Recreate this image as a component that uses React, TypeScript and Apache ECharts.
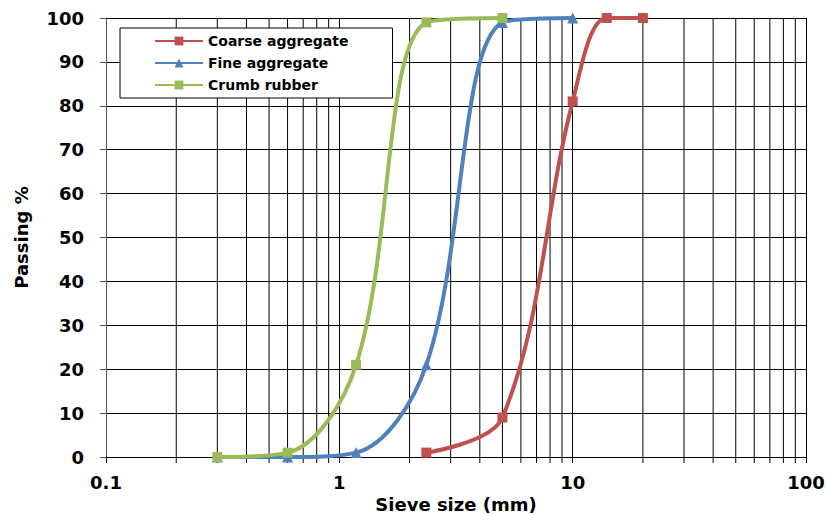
import React, { useEffect, useRef } from "react";
import * as echarts from "echarts";

const sieveCoarse = [2.36, 5, 10, 14, 20];
const passingCoarse = [1, 9, 81, 100, 100];
const sieveFine = [0.3, 0.6, 1.18, 2.36, 5, 10];
const passingFine = [0, 0, 1, 21, 99, 100];
const sieveRubber = [0.3, 0.6, 1.18, 2.36, 5];
const passingRubber = [0, 1, 21, 99, 100];
const minorGrid = [0.2, 0.3, 0.4, 0.5, 0.6, 0.7, 0.8, 0.9, 2, 3, 4, 5, 6, 7, 8, 9, 20, 30, 40, 50, 60, 70, 80, 90];

const zip = (xs: number[], ys: number[]) => xs.map((x, i) => [x, ys[i]]);

export default function App() {
  const ref = useRef<HTMLDivElement>(null);
  useEffect(() => {
    const chart = echarts.init(ref.current!, null, { renderer: "svg" });
    const font = "DejaVu Sans, Verdana, sans-serif";
    chart.setOption({
      animation: false,
      backgroundColor: "#fff",
      textStyle: { fontFamily: font },
      grid: { left: 106, right: 21, top: 18, bottom: 58, outerBoundsMode: "none", containLabel: false },
      legend: {
        orient: "vertical",
        left: 120,
        top: 28,
        backgroundColor: "#fff",
        borderColor: "#000",
        borderWidth: 1,
        padding: [6, 44, 6, 34],
        itemGap: 8,
        itemWidth: 48,
        itemHeight: 11,
        textStyle: { fontFamily: font, fontSize: 14, fontWeight: "bold", color: "#000" },
        data: ["Coarse aggregate", "Fine aggregate", "Crumb rubber"],
      },
      xAxis: {
        type: "log",
        logBase: 10,
        min: 0.1,
        max: 100,
        name: "Sieve size (mm)",
        nameLocation: "middle",
        nameGap: 32,
        nameTextStyle: { fontFamily: font, fontSize: 18, fontWeight: "bold", color: "#000" },
        axisLine: { lineStyle: { color: "#000", width: 1 } },
        axisTick: { show: true, length: 6, lineStyle: { color: "#000" } },
        axisLabel: {
          fontFamily: font,
          fontSize: 18,
          fontWeight: "bold",
          color: "#000",
          margin: 16,
          formatter: (v: number) => String(v),
        },
        splitLine: { show: true, lineStyle: { color: "#000", width: 1 } },
      },
      yAxis: {
        type: "value",
        min: 0,
        max: 100,
        interval: 10,
        name: "Passing %",
        nameLocation: "middle",
        nameGap: 76,
        nameTextStyle: { fontFamily: font, fontSize: 18, fontWeight: "bold", color: "#000" },
        axisLine: { show: true, lineStyle: { color: "#555", width: 1 } },
        axisTick: { show: true, length: 6, lineStyle: { color: "#555" } },
        axisLabel: { fontFamily: font, fontSize: 18, fontWeight: "bold", color: "#000", margin: 22 },
        splitLine: { show: true, lineStyle: { color: "#000", width: 1 } },
      },
      series: [
        {
          name: "minor grid",
          type: "custom",
          silent: true,
          z: 1,
          data: minorGrid.map((x) => [x]),
          renderItem: (params: any, api: any) => {
            const x = api.value(0);
            const top = api.coord([x, 100]);
            const bottom = api.coord([x, 0]);
            return {
              type: "line",
              shape: { x1: top[0], y1: top[1], x2: bottom[0], y2: bottom[1] + 6 },
              style: { stroke: "#000", lineWidth: 1 },
            };
          },
        },
        {
          name: "Coarse aggregate",
          type: "line",
          smooth: 0.35,
          data: zip(sieveCoarse, passingCoarse),
          symbol: "rect",
          symbolSize: 10,
          lineStyle: { color: "#C0504D", width: 4 },
          itemStyle: { color: "#C0504D" },
        },
        {
          name: "Fine aggregate",
          type: "line",
          smooth: 0.35,
          data: zip(sieveFine, passingFine),
          symbol: "triangle",
          symbolSize: 11,
          lineStyle: { color: "#4F81BD", width: 4 },
          itemStyle: { color: "#4F81BD" },
        },
        {
          name: "Crumb rubber",
          type: "line",
          smooth: 0.35,
          data: zip(sieveRubber, passingRubber),
          symbol: "rect",
          symbolSize: 10,
          lineStyle: { color: "#9BBB59", width: 4 },
          itemStyle: { color: "#9BBB59" },
        },
      ],
    });
    return () => chart.dispose();
  }, []);
  return <div ref={ref} style={{ width: 827, height: 515, position: "absolute", left: 0, top: 0 }} />;
}
